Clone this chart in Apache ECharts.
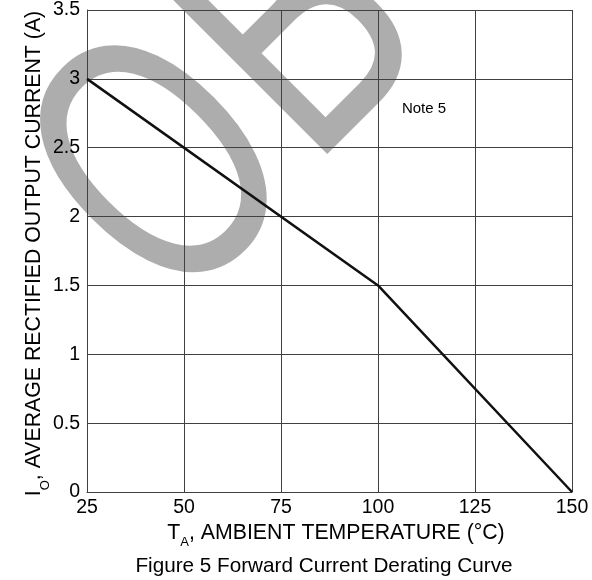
<!DOCTYPE html>
<html>
<head>
<meta charset="utf-8">
<script src="https://cdn.jsdelivr.net/npm/echarts@6/dist/echarts.min.js"></script>
<style>
  html, body { margin: 0; padding: 0; background: #fff; }
  #chart { width: 592px; height: 580px; }
</style>
</head>
<body>
<div id="chart"></div>
<script>
// derating curve
var temps = [25, 100, 150];      // T_A (°C)
var currents = [3, 1.5, 0];      // I_O (A)
var xRange = [25, 150, 25];      // min, max, step
var yRange = [0, 3.5, 0.5];

var fontFamily = '"Liberation Sans", Arial, sans-serif';
var gridColor = '#404040';

var chart = echarts.init(document.getElementById('chart'));

var axisCommon = {
  type: 'value',
  axisLine: { lineStyle: { color: gridColor, width: 1 } },
  axisTick: { show: false },
  splitLine: { show: true, lineStyle: { color: gridColor, width: 1 } }
};

// stamp letters, rotated 45deg and squeezed
function stampLetter(ch, x, y, align, sx) {
  return {
    type: 'text', x: x, y: y, rotation: Math.PI / 4, scaleX: sx, z: -1, silent: true,
    style: {
      text: ch, font: '365px ' + fontFamily, fill: '#adadad',
      align: align, verticalAlign: 'middle', textAlign: align, textVerticalAlign: 'middle'
    }
  };
}

var option = {
  animation: false,
  backgroundColor: '#fff',
  grid: { left: 87, right: 20, top: 8, bottom: 88 },
  xAxis: Object.assign({}, axisCommon, {
    min: xRange[0], max: xRange[1], interval: xRange[2],
    axisLabel: { color: '#000', fontSize: 19.5, fontFamily: fontFamily, margin: 6 }
  }),
  yAxis: Object.assign({}, axisCommon, {
    min: yRange[0], max: yRange[1], interval: yRange[2],
    axisLabel: { color: '#000', fontSize: 19.5, fontFamily: fontFamily, margin: 7 }
  }),
  series: [{
    type: 'line',
    data: temps.map(function (t, i) { return [t, currents[i]]; }),
    symbol: 'none',
    z: 5,
    lineStyle: { color: '#111', width: 2.5 }
  }],
  graphic: [
    stampLetter('O', 171.5, 176.5, 'center', 0.69),
    stampLetter('B', 240.6, 98.4, 'left', 0.73),
    {
      type: 'text', x: 424, y: 108.5, z: 10,
      style: {
        text: 'Note 5', font: '15px ' + fontFamily, fill: '#000',
        align: 'center', verticalAlign: 'middle', textAlign: 'center', textVerticalAlign: 'middle'
      }
    },
    {
      type: 'text', x: 336, y: 533.4, z: 10,
      style: {
        text: '{a|T}{s|A}{a|, AMBIENT TEMPERATURE (°C)}',
        align: 'center', verticalAlign: 'middle', textAlign: 'center', textVerticalAlign: 'middle',
        rich: {
          a: { font: '21.3px ' + fontFamily, fill: '#000', lineHeight: 32 },
          s: { font: '13px ' + fontFamily, fill: '#000', lineHeight: 13, verticalAlign: 'bottom' }
        }
      }
    },
    {
      type: 'text', x: 34, y: 253.5, rotation: Math.PI / 2, z: 10,
      style: {
        text: '{a|I}{s|O}{a|, AVERAGE RECTIFIED OUTPUT CURRENT (A)}',
        align: 'center', verticalAlign: 'middle', textAlign: 'center', textVerticalAlign: 'middle',
        rich: {
          a: { font: '21.3px ' + fontFamily, fill: '#000', lineHeight: 36 },
          s: { font: '13px ' + fontFamily, fill: '#000', lineHeight: 13, verticalAlign: 'bottom' }
        }
      }
    },
    {
      type: 'text', x: 324, y: 565.8, z: 10,
      style: {
        text: 'Figure 5 Forward Current Derating Curve', font: '20.7px ' + fontFamily, fill: '#000',
        align: 'center', verticalAlign: 'middle', textAlign: 'center', textVerticalAlign: 'middle'
      }
    }
  ]
};

chart.setOption(option);
</script>
</body>
</html>
